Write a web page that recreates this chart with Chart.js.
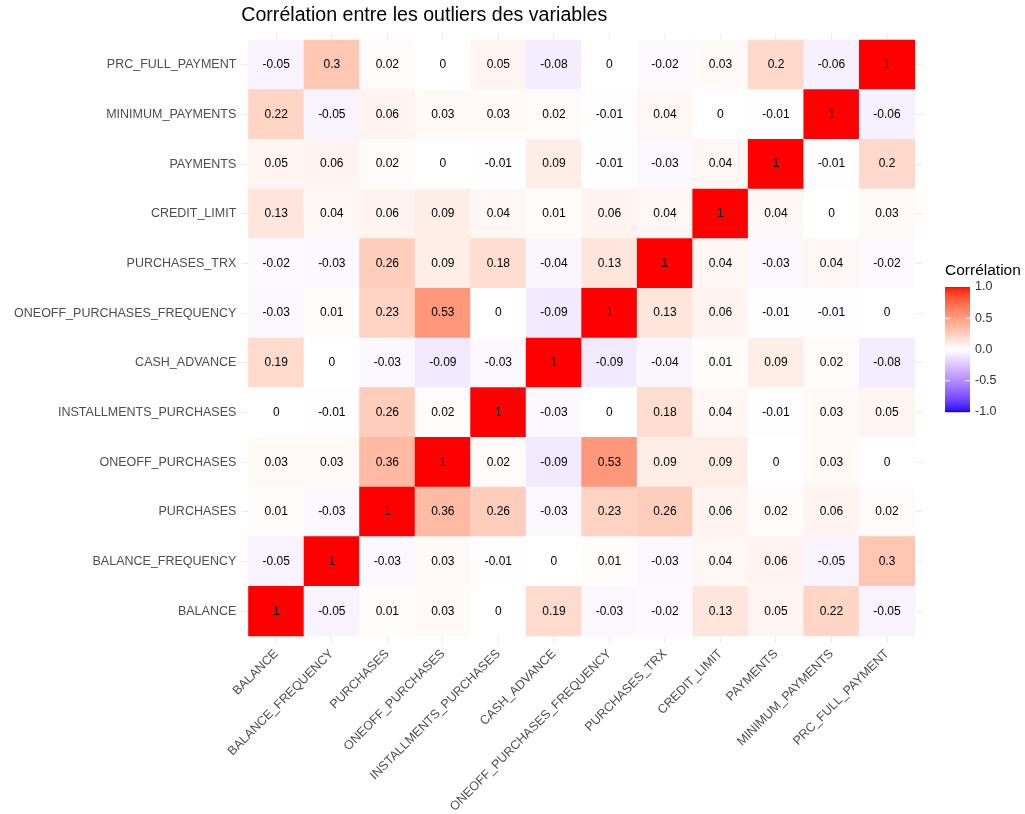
<!DOCTYPE html>
<html lang="fr">
<head>
<meta charset="UTF-8">
<title>Corrélation entre les outliers des variables</title>
<style>
  html, body { margin: 0; padding: 0; background: #fff; }
  canvas { display: block; }
</style>
</head>
<body>
<canvas id="heatmap" width="1025" height="814"></canvas>

<script src="https://cdn.jsdelivr.net/npm/chart.js"></script>
<script>
// variables, bottom row / left column first
const variables = [
  'BALANCE', 'BALANCE_FREQUENCY', 'PURCHASES', 'ONEOFF_PURCHASES',
  'INSTALLMENTS_PURCHASES', 'CASH_ADVANCE', 'ONEOFF_PURCHASES_FREQUENCY',
  'PURCHASES_TRX', 'CREDIT_LIMIT', 'PAYMENTS', 'MINIMUM_PAYMENTS', 'PRC_FULL_PAYMENT'
];

// one row of the correlation matrix per variable
const rowBalance        = [1, -0.05, 0.01, 0.03, 0, 0.19, -0.03, -0.02, 0.13, 0.05, 0.22, -0.05];
const rowBalanceFreq    = [-0.05, 1, -0.03, 0.03, -0.01, 0, 0.01, -0.03, 0.04, 0.06, -0.05, 0.3];
const rowPurchases      = [0.01, -0.03, 1, 0.36, 0.26, -0.03, 0.23, 0.26, 0.06, 0.02, 0.06, 0.02];
const rowOneoff         = [0.03, 0.03, 0.36, 1, 0.02, -0.09, 0.53, 0.09, 0.09, 0, 0.03, 0];
const rowInstallments   = [0, -0.01, 0.26, 0.02, 1, -0.03, 0, 0.18, 0.04, -0.01, 0.03, 0.05];
const rowCashAdvance    = [0.19, 0, -0.03, -0.09, -0.03, 1, -0.09, -0.04, 0.01, 0.09, 0.02, -0.08];
const rowOneoffFreq     = [-0.03, 0.01, 0.23, 0.53, 0, -0.09, 1, 0.13, 0.06, -0.01, -0.01, 0];
const rowPurchasesTrx   = [-0.02, -0.03, 0.26, 0.09, 0.18, -0.04, 0.13, 1, 0.04, -0.03, 0.04, -0.02];
const rowCreditLimit    = [0.13, 0.04, 0.06, 0.09, 0.04, 0.01, 0.06, 0.04, 1, 0.04, 0, 0.03];
const rowPayments       = [0.05, 0.06, 0.02, 0, -0.01, 0.09, -0.01, -0.03, 0.04, 1, -0.01, 0.2];
const rowMinPayments    = [0.22, -0.05, 0.06, 0.03, 0.03, 0.02, -0.01, 0.04, 0, -0.01, 1, -0.06];
const rowPrcFullPayment = [-0.05, 0.3, 0.02, 0, 0.05, -0.08, 0, -0.02, 0.03, 0.2, -0.06, 1];

const matrixRows = [
  rowBalance, rowBalanceFreq, rowPurchases, rowOneoff, rowInstallments, rowCashAdvance,
  rowOneoffFreq, rowPurchasesTrx, rowCreditLimit, rowPayments, rowMinPayments, rowPrcFullPayment
];

const legendValues = [1, 0.5, 0, -0.5, -1];
const legendLabels = ['1.0', '0.5', '0.0', '-0.5', '-1.0'];

const FONT = '"Liberation Sans", Arial, sans-serif';

// --- colour scale: blue / white / red, interpolated in CIELAB like ggplot ---
const D65 = [0.95047, 1, 1.08883];
function toLinear(c) { c /= 255; return c <= 0.04045 ? c / 12.92 : Math.pow((c + 0.055) / 1.055, 2.4); }
function fromLinear(c) {
  c = c <= 0.0031308 ? 12.92 * c : 1.055 * Math.pow(c, 1 / 2.4) - 0.055;
  return Math.round(Math.min(1, Math.max(0, c)) * 255);
}
function f(t) { return t > 216 / 24389 ? Math.cbrt(t) : (24389 / 27 * t + 16) / 116; }
function fInv(t) { return t * t * t > 216 / 24389 ? t * t * t : (116 * t - 16) / (24389 / 27); }
function rgbToLab(rgb) {
  const [r, g, b] = rgb.map(toLinear);
  const fx = f((0.4124 * r + 0.3576 * g + 0.1805 * b) / D65[0]);
  const fy = f((0.2126 * r + 0.7152 * g + 0.0722 * b) / D65[1]);
  const fz = f((0.0193 * r + 0.1192 * g + 0.9505 * b) / D65[2]);
  return [116 * fy - 16, 500 * (fx - fy), 200 * (fy - fz)];
}
function labToRgb(lab) {
  const fy = (lab[0] + 16) / 116, fx = fy + lab[1] / 500, fz = fy - lab[2] / 200;
  const x = fInv(fx) * D65[0], y = fInv(fy) * D65[1], z = fInv(fz) * D65[2];
  return [
    3.2406 * x - 1.5372 * y - 0.4986 * z,
    -0.9689 * x + 1.8758 * y + 0.0415 * z,
    0.0557 * x - 0.2040 * y + 1.0570 * z
  ].map(fromLinear);
}
const labWhite = rgbToLab([255, 255, 255]);
const labRed = rgbToLab([255, 0, 0]);
const labBlue = rgbToLab([0, 0, 255]);

function corrColor(v) {
  const end = v >= 0 ? labRed : labBlue;
  const t = Math.min(1, Math.abs(v));
  const lab = labWhite.map((w, k) => w + (end[k] - w) * t);
  const [r, g, b] = labToRgb(lab);
  return `rgb(${r},${g},${b})`;
}

// one floating-bar dataset per row of tiles
const datasets = matrixRows.map((row, i) => ({
  label: variables[i],
  data: row.map((v, j) => ({ x: j + 0.5, y: [i, i + 1], v: v })),
  backgroundColor: ctx => corrColor(ctx.raw.v),
  borderWidth: 0,
  grouped: false,
  barPercentage: 1,
  categoryPercentage: 1
}));

// print the value in every tile
const cellText = {
  id: 'cellText',
  afterDatasetsDraw(chart) {
    const ctx = chart.ctx;
    ctx.save();
    ctx.font = '12px ' + FONT;
    ctx.fillStyle = '#000';
    ctx.textAlign = 'center';
    ctx.textBaseline = 'middle';
    chart.data.datasets.forEach((ds, i) => {
      chart.getDatasetMeta(i).data.forEach((bar, j) => {
        ctx.fillText(String(ds.data[j].v), bar.x, (bar.y + bar.base) / 2);
      });
    });
    ctx.restore();
  }
};

// colourbar legend on the right
const colorBar = {
  id: 'colorBar',
  afterDraw(chart) {
    const ctx = chart.ctx;
    const area = chart.chartArea;
    const x = area.right + 23, w = 25, h = 125;
    const top = (area.top + area.bottom) / 2 - 51;
    ctx.save();
    ctx.font = '15.5px ' + FONT;
    ctx.fillStyle = '#000';
    ctx.textAlign = 'left';
    ctx.textBaseline = 'middle';
    ctx.fillText('Corrélation', x, top - 16);

    for (let k = 0; k < h; k++) {
      ctx.fillStyle = corrColor(1 - 2 * (k + 0.5) / h);
      ctx.fillRect(x, top + k, w, 1.2);
    }
    ctx.strokeStyle = '#fff';
    ctx.lineWidth = 1;
    ctx.font = '12.5px ' + FONT;
    legendValues.forEach((v, k) => {
      const y = top + (1 - v) / 2 * h;
      if (Math.abs(v) < 1) {
        ctx.beginPath();
        ctx.moveTo(x, y); ctx.lineTo(x + 5, y);
        ctx.moveTo(x + w - 5, y); ctx.lineTo(x + w, y);
        ctx.stroke();
      }
      ctx.fillStyle = '#333';
      ctx.fillText(legendLabels[k], x + w + 5, y);
    });
    ctx.restore();
  }
};

const centres = variables.map((_, i) => ({ value: i + 0.5 }));
const nameAt = value => variables[Math.round(value - 0.5)];

new Chart(document.getElementById('heatmap'), {
  type: 'bar',
  data: { datasets: datasets },
  options: {
    responsive: false,
    animation: false,
    layout: { padding: { left: 0, right: 103, top: 0, bottom: 0 } },
    plugins: {
      legend: { display: false },
      tooltip: { enabled: false },
      title: {
        display: true,
        text: 'Corrélation entre les outliers des variables',
        align: 'start',
        fullSize: false,
        color: '#000',
        font: { family: FONT, size: 19.6, weight: 'normal' },
        padding: { top: 4, bottom: 6 }
      }
    },
    scales: {
      x: {
        type: 'linear',
        min: -0.13,
        max: 12.13,
        offset: false,
        afterBuildTicks: scale => { scale.ticks = centres.map(t => ({ value: t.value })); },
        afterFit: scale => { scale.height = 171.5; },
        grid: { offset: false, color: '#ebebeb', drawTicks: false },
        border: { display: false },
        ticks: {
          autoSkip: false,
          minRotation: 45,
          maxRotation: 45,
          padding: 4,
          color: '#4d4d4d',
          font: { family: FONT, size: 12.5 },
          callback: nameAt
        }
      },
      y: {
        type: 'linear',
        min: -0.13,
        max: 12.13,
        afterBuildTicks: scale => { scale.ticks = centres.map(t => ({ value: t.value })); },
        afterFit: scale => { scale.width = 241.3; },
        grid: { color: '#ebebeb', drawTicks: false },
        border: { display: false },
        ticks: {
          autoSkip: false,
          padding: 5,
          color: '#4d4d4d',
          font: { family: FONT, size: 12.5 },
          callback: nameAt
        }
      }
    }
  },
  plugins: [cellText, colorBar]
});
</script>
</body>
</html>
